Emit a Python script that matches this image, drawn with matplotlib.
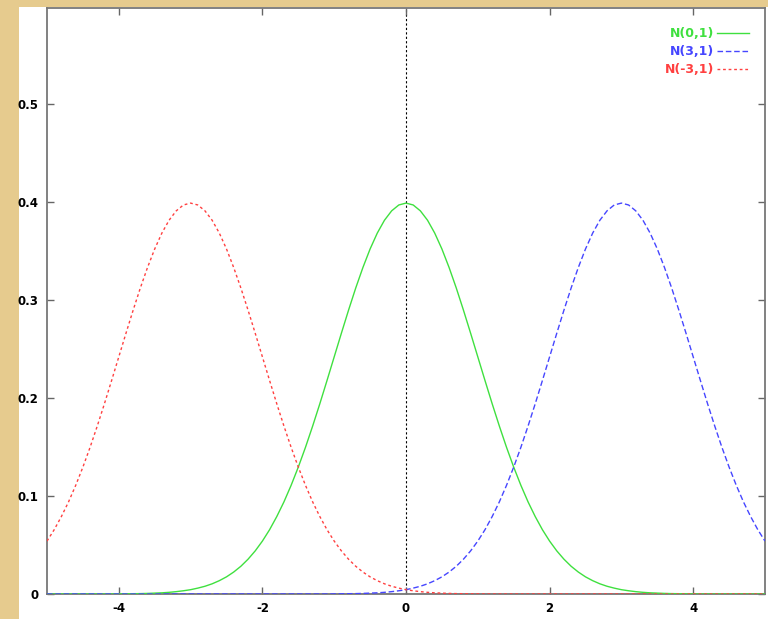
import matplotlib
matplotlib.use("Agg")
import matplotlib.pyplot as plt
from matplotlib.patches import Rectangle

# x positions the curves were read at (every 0.1 from -5 to 5)
x_vals = [round(-5 + 0.1 * i, 1) for i in range(101)]

# N(0,1)
green_vals = [0, 0, 0, 0, 0, 0, 0, 0, 0, 0,
              0.0001, 0.0002, 0.0003, 0.0004, 0.0006, 0.0009, 0.0012, 0.0017, 0.0024, 0.0033,
              0.0044, 0.0060, 0.0079, 0.0104, 0.0136, 0.0175, 0.0224, 0.0283, 0.0355, 0.0440,
              0.0540, 0.0656, 0.0790, 0.0940, 0.1109, 0.1295, 0.1497, 0.1714, 0.1942, 0.2179,
              0.2420, 0.2661, 0.2897, 0.3123, 0.3332, 0.3521, 0.3683, 0.3814, 0.3910, 0.3970,
              0.3989,
              0.3970, 0.3910, 0.3814, 0.3683, 0.3521, 0.3332, 0.3123, 0.2897, 0.2661, 0.2420,
              0.2179, 0.1942, 0.1714, 0.1497, 0.1295, 0.1109, 0.0940, 0.0790, 0.0656, 0.0540,
              0.0440, 0.0355, 0.0283, 0.0224, 0.0175, 0.0136, 0.0104, 0.0079, 0.0060, 0.0044,
              0.0033, 0.0024, 0.0017, 0.0012, 0.0009, 0.0006, 0.0004, 0.0003, 0.0002, 0.0001,
              0, 0, 0, 0, 0, 0, 0, 0, 0, 0]

# N(3,1)
blue_vals = [0, 0, 0, 0, 0, 0, 0, 0, 0, 0,
             0, 0, 0, 0, 0, 0, 0, 0, 0, 0,
             0, 0, 0, 0, 0, 0, 0, 0, 0, 0,
             0, 0, 0, 0, 0, 0, 0, 0, 0, 0,
             0.0001, 0.0002, 0.0003, 0.0004, 0.0006, 0.0009, 0.0012, 0.0017, 0.0024, 0.0033,
             0.0044, 0.0060, 0.0079, 0.0104, 0.0136, 0.0175, 0.0224, 0.0283, 0.0355, 0.0440,
             0.0540, 0.0656, 0.0790, 0.0940, 0.1109, 0.1295, 0.1497, 0.1714, 0.1942, 0.2179,
             0.2420, 0.2661, 0.2897, 0.3123, 0.3332, 0.3521, 0.3683, 0.3814, 0.3910, 0.3970,
             0.3989,
             0.3970, 0.3910, 0.3814, 0.3683, 0.3521, 0.3332, 0.3123, 0.2897, 0.2661, 0.2420,
             0.2179, 0.1942, 0.1714, 0.1497, 0.1295, 0.1109, 0.0940, 0.0790, 0.0656, 0.0540]

# N(-3,1)
red_vals = [0.0540, 0.0656, 0.0790, 0.0940, 0.1109, 0.1295, 0.1497, 0.1714, 0.1942, 0.2179,
            0.2420, 0.2661, 0.2897, 0.3123, 0.3332, 0.3521, 0.3683, 0.3814, 0.3910, 0.3970,
            0.3989,
            0.3970, 0.3910, 0.3814, 0.3683, 0.3521, 0.3332, 0.3123, 0.2897, 0.2661, 0.2420,
            0.2179, 0.1942, 0.1714, 0.1497, 0.1295, 0.1109, 0.0940, 0.0790, 0.0656, 0.0540,
            0.0440, 0.0355, 0.0283, 0.0224, 0.0175, 0.0136, 0.0104, 0.0079, 0.0060, 0.0044,
            0.0033, 0.0024, 0.0017, 0.0012, 0.0009, 0.0006, 0.0004, 0.0003, 0.0002, 0.0001,
            0, 0, 0, 0, 0, 0, 0, 0, 0, 0,
            0, 0, 0, 0, 0, 0, 0, 0, 0, 0,
            0, 0, 0, 0, 0, 0, 0, 0, 0, 0,
            0, 0, 0, 0, 0, 0, 0, 0, 0, 0]

labels = ["N(0,1)", "N(3,1)", "N(-3,1)"]
xticks = [-4, -2, 0, 2, 4]
yticks = [0, 0.1, 0.2, 0.3, 0.4, 0.5]
ytick_labels = ["0", "0.1", "0.2", "0.3", "0.4", "0.5"]

W, H = 768, 619
fig = plt.figure(figsize=(W / 100, H / 100), dpi=100, facecolor="#e6cb8e")

# white page behind the plot
fig.patches.append(Rectangle((19 / W, 0), 1 - 19 / W, 1 - 7 / H,
                             transform=fig.transFigure, facecolor="white",
                             edgecolor="none", zorder=-5))

ax = fig.add_axes([47 / W, (H - 594) / H, (765 - 47) / W, (594 - 8) / H])
ax.set_zorder(2)
ax.set_facecolor("white")

c_green = "#3fe03f"
c_blue = "#4646ff"
c_red = "#ff4040"

# zero axes
ax.axhline(0, color="#888888", lw=1.0, zorder=1)
ax.axvline(0, color="black", lw=0.8, ls=(0, (2, 2)), zorder=1)

ax.plot(x_vals, green_vals, color=c_green, lw=1.0, label=labels[0], zorder=3)
ax.plot(x_vals, blue_vals, color=c_blue, lw=1.0, ls=(0, (4, 2)), label=labels[1], zorder=3)
ax.plot(x_vals, red_vals, color=c_red, lw=1.0, ls=(0, (2, 2)), label=labels[2], zorder=3)

ax.set_xlim(-5, 5)
ax.set_ylim(0, 0.598)
ax.set_xticks(xticks)
ax.set_xticklabels([str(t) for t in xticks])
ax.set_yticks(yticks)
ax.set_yticklabels(ytick_labels)

ax.tick_params(direction="in", length=5, width=1, color="#666666",
               top=True, right=True, labelsize=8.5, pad=6)
for lab in ax.get_xticklabels() + ax.get_yticklabels():
    lab.set_fontweight("bold")
for sp in ax.spines.values():
    sp.set_color("#777777")
    sp.set_linewidth(1.3)

leg = ax.legend(loc="upper right", bbox_to_anchor=(0.978, 0.967), frameon=False,
                markerfirst=False, handlelength=2.6, handletextpad=0.2,
                labelspacing=0.4, borderpad=0, borderaxespad=0,
                prop={"size": 9, "weight": "bold"})
for txt, col in zip(leg.get_texts(), [c_green, c_blue, c_red]):
    txt.set_color(col)

fig.savefig("out.png", dpi=100, facecolor=fig.get_facecolor())
